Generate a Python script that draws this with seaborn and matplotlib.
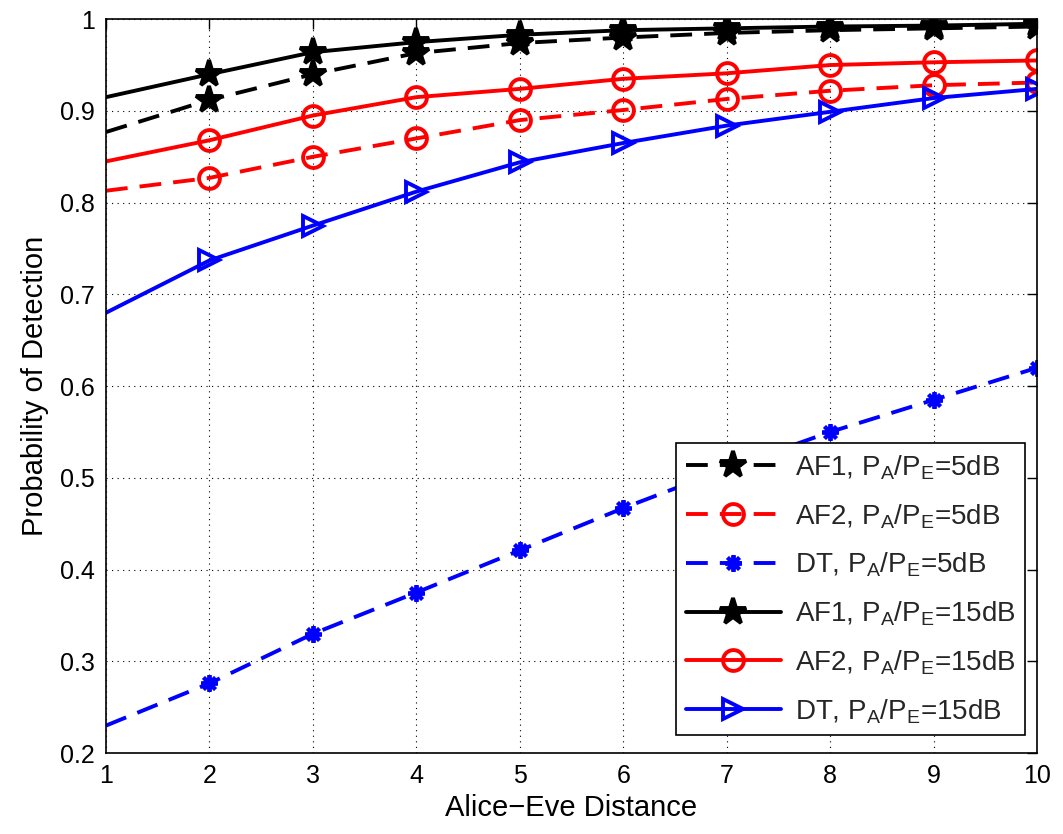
import numpy as np
import pandas as pd
import matplotlib
matplotlib.use("Agg")
import matplotlib.pyplot as plt
import seaborn as sns

distance = [1, 2, 3, 4, 5, 6, 7, 8, 9, 10]
af1_5db = [0.877, 0.912, 0.940, 0.963, 0.974, 0.980, 0.985, 0.988, 0.990, 0.992]
af2_5db = [0.813, 0.827, 0.850, 0.870, 0.890, 0.901, 0.913, 0.922, 0.928, 0.931]
dt_5db = [0.230, 0.276, 0.330, 0.375, 0.421, 0.467, 0.510, 0.550, 0.585, 0.620]
af1_15db = [0.915, 0.940, 0.964, 0.975, 0.983, 0.988, 0.990, 0.992, 0.993, 0.995]
af2_15db = [0.845, 0.868, 0.895, 0.915, 0.924, 0.935, 0.941, 0.950, 0.953, 0.955]
dt_15db = [0.680, 0.737, 0.775, 0.812, 0.844, 0.865, 0.884, 0.899, 0.914, 0.924]

labels = [
    r"AF1, P$_\mathregular{A}$/P$_\mathregular{E}$=5dB",
    r"AF2, P$_\mathregular{A}$/P$_\mathregular{E}$=5dB",
    r"DT, P$_\mathregular{A}$/P$_\mathregular{E}$=5dB",
    r"AF1, P$_\mathregular{A}$/P$_\mathregular{E}$=15dB",
    r"AF2, P$_\mathregular{A}$/P$_\mathregular{E}$=15dB",
    r"DT, P$_\mathregular{A}$/P$_\mathregular{E}$=15dB",
]

sns.set_theme(style="white")
plt.rcParams["font.family"] = ["Liberation Sans", "DejaVu Sans"]
plt.rcParams["mathtext.fontset"] = "custom"
plt.rcParams["mathtext.rm"] = "Liberation Sans"

fig = plt.figure(figsize=(10.63, 8.34), dpi=100)
ax = fig.add_axes([0.0997, 0.097, 0.8758, 0.880])

dash = (0, (5.6, 3.1))
lw = 2.8
styles = [
    (af1_5db, "black", dash, "*", 20, "black"),
    (af2_5db, "red", dash, "o", 15, "none"),
    (dt_5db, "blue", dash, (8, 2, 0), 12, "blue"),
    (af1_15db, "black", "-", "*", 20, "black"),
    (af2_15db, "red", "-", "o", 15, "none"),
    (dt_15db, "blue", "-", ">", 15, "none"),
]

for (vals, col, ls, mk, ms, fc), lab in zip(styles, labels):
    df = pd.DataFrame({"x": distance, "y": vals})
    sns.lineplot(data=df, x="x", y="y", ax=ax, color=col, linestyle=ls,
                 linewidth=lw, marker=mk, markersize=ms,
                 markerfacecolor=fc, markeredgecolor=col, markeredgewidth=lw,
                 markevery=slice(1, None), label=lab)

ax.set_xlim(1, 10)
ax.set_ylim(0.2, 1.0)
ax.set_xticks(range(1, 11))
ax.set_yticks(np.arange(0.2, 1.01, 0.1))
ax.set_yticklabels(["0.2", "0.3", "0.4", "0.5", "0.6", "0.7", "0.8", "0.9", "1"])
ax.grid(True, color="black", linestyle=(0, (1, 4)), linewidth=0.8)
ax.tick_params(direction="in", length=7, width=1, top=True, right=True,
               labelsize=18, colors="black", pad=8)
for s in ax.spines.values():
    s.set_color("black")
    s.set_linewidth(1.2)
ax.set_xlabel("Alice\u2212Eve Distance", fontsize=21, color="black", labelpad=4)
ax.set_ylabel("Probability of Detection", fontsize=21, color="black", labelpad=8)

leg = ax.legend(loc="lower right", bbox_to_anchor=(0.987, 0.024), fontsize=20,
                handlelength=3.4, frameon=True, fancybox=False, edgecolor="black",
                framealpha=1, borderpad=0.35, labelspacing=0.72, handletextpad=0.5,
                borderaxespad=0)
leg.get_frame().set_linewidth(1.2)

fig.savefig("out.png", dpi=100)
